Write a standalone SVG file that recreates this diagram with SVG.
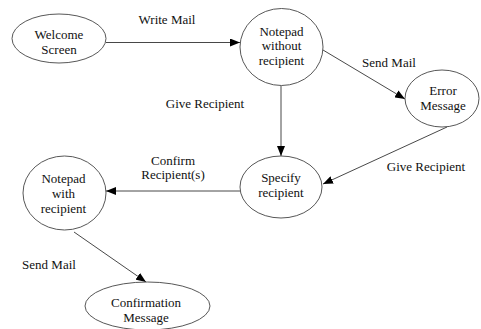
<svg xmlns="http://www.w3.org/2000/svg" width="481" height="329" viewBox="0 0 481 329" font-family="Liberation Serif, Times New Roman, serif">
<style>
.n{fill:#fff;stroke:#444;stroke-width:0.9}
.e{fill:none;stroke:#333;stroke-width:0.9}
text{font-family:Liberation Serif, Times New Roman, Times, serif;font-size:13px;fill:#111;text-anchor:middle}
</style>
<defs>
<marker id="a" viewBox="0 0 10 8" refX="10" refY="4" markerWidth="10" markerHeight="8" markerUnits="userSpaceOnUse" orient="auto">
<path d="M0,0L10,4L0,8z" fill="#000"/>
</marker>
</defs>
<rect width="481" height="329" fill="#fff"/>
<g id="edges">
<line class="e" x1="106" y1="42.5" x2="240" y2="42.5" marker-end="url(#a)"/>
<line class="e" x1="323" y1="50" x2="405" y2="99" marker-end="url(#a)"/>
<line class="e" x1="281" y1="86" x2="281" y2="156" marker-end="url(#a)"/>
<line class="e" x1="447" y1="127" x2="323" y2="184" marker-end="url(#a)"/>
<line class="e" x1="240" y1="191" x2="106" y2="191" marker-end="url(#a)"/>
<line class="e" x1="74" y1="232" x2="146" y2="282" marker-end="url(#a)"/>
<text x="167" y="24">Write Mail</text>
<text x="389" y="67">Send Mail</text>
<text x="205" y="108">Give Recipient</text>
<text x="426" y="171">Give Recipient</text>
<text x="173" y="165">Confirm</text>
<text x="173" y="179">Recipient(s)</text>
<text x="49" y="269">Send Mail</text>
</g>
<g id="welcome">
<ellipse class="n" cx="59" cy="38.5" rx="47" ry="24.5"/>
<text x="59" y="38.5">Welcome</text>
<text x="59" y="54">Screen</text>
</g>
<g id="notepad-without">
<ellipse class="n" cx="281.5" cy="47" rx="41.5" ry="38.5"/>
<text x="281.5" y="36">Notepad</text>
<text x="281.5" y="50">without</text>
<text x="281.5" y="65">recipient</text>
</g>
<g id="error">
<ellipse class="n" cx="442" cy="98.5" rx="37" ry="28.5"/>
<text x="443" y="94.5">Error</text>
<text x="443" y="110">Message</text>
</g>
<g id="specify">
<ellipse class="n" cx="281" cy="187" rx="41" ry="31"/>
<text x="281" y="181.5">Specify</text>
<text x="281" y="196.5">recipient</text>
</g>
<g id="notepad-with">
<ellipse class="n" cx="64.5" cy="193" rx="41.5" ry="37"/>
<text x="63.5" y="182.5">Notepad</text>
<text x="63.5" y="197.5">with</text>
<text x="63.5" y="213">recipient</text>
</g>
<g id="confirmation">
<ellipse class="n" cx="147.5" cy="306" rx="62.5" ry="24"/>
<text x="146" y="306.5">Confirmation</text>
<text x="146" y="321.5">Message</text>
</g>
</svg>
